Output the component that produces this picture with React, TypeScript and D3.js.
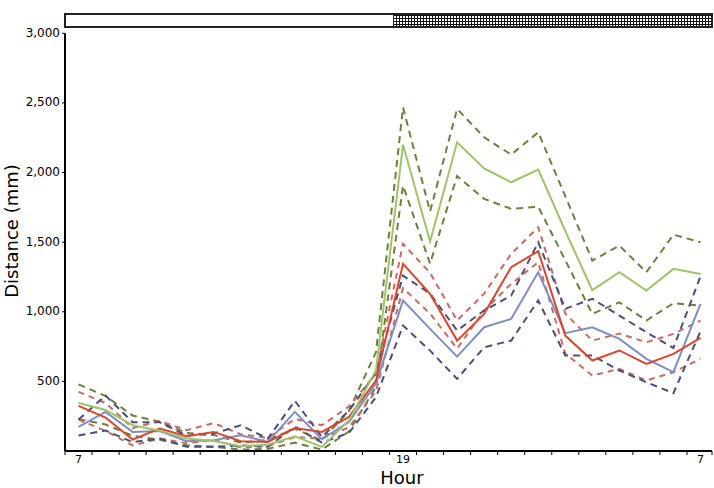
import React from "react";
import * as d3 from "d3";

// hours 7 -> 6 (24 hourly bins), only a few get labels
const hours = [7, 8, 9, 10, 11, 12, 13, 14, 15, 16, 17, 18, 19, 20, 21, 22, 23, 0, 1, 2, 3, 4, 5, 6];
const hourLabels: Record<number, string> = { 0: "7", 12: "19", 23: "7" };
const yTicks = [500, 1000, 1500, 2000, 2500, 3000];

const greenMean = [345, 295, 185, 145, 90, 72, 35, 45, 105, 30, 220, 580, 2200, 1505, 2217, 2030, 1930, 2021, 1580, 1155, 1284, 1152, 1308, 1272];
const greenUpper = [478, 395, 255, 210, 130, 115, 60, 80, 160, 75, 290, 710, 2468, 1720, 2457, 2253, 2129, 2289, 1830, 1368, 1475, 1284, 1554, 1499];
const greenLower = [230, 190, 110, 80, 40, 30, 10, 15, 60, 10, 140, 460, 1906, 1346, 1975, 1811, 1739, 1755, 1370, 985, 1068, 937, 1061, 1045];

const redMean = [324, 240, 82, 161, 106, 137, 70, 65, 165, 137, 245, 506, 1344, 1128, 793, 985, 1320, 1435, 829, 650, 722, 626, 698, 813];
const redUpper = [425, 345, 165, 215, 150, 200, 120, 95, 230, 185, 320, 556, 1488, 1280, 937, 1130, 1416, 1607, 987, 793, 843, 781, 841, 937];
const redLower = [225, 145, 40, 90, 55, 80, 25, 35, 100, 90, 170, 430, 1170, 987, 736, 1009, 1200, 1356, 700, 542, 590, 506, 566, 662];

const blueMean = [173, 281, 137, 144, 70, 77, 113, 65, 281, 84, 209, 484, 1081, 877, 678, 889, 949, 1284, 846, 889, 805, 662, 566, 1057];
const blueUpper = [226, 398, 207, 207, 110, 125, 185, 89, 360, 101, 290, 560, 1260, 1130, 865, 1009, 1116, 1499, 1021, 1093, 973, 853, 740, 1255];
const blueLower = [111, 147, 63, 90, 30, 30, 40, 30, 175, 60, 130, 386, 901, 721, 518, 745, 793, 1081, 686, 686, 578, 494, 415, 860];

const series = [
  { values: greenUpper, color: "#6f7f3c", dash: "7,5" },
  { values: greenLower, color: "#6f7f3c", dash: "7,5" },
  { values: redUpper, color: "#cc6a60", dash: "6,5" },
  { values: redLower, color: "#cc6a60", dash: "6,5" },
  { values: blueUpper, color: "#4a4f7c", dash: "7,5" },
  { values: blueLower, color: "#4a4f7c", dash: "7,5" },
  { values: blueMean, color: "#7d8fc7", dash: null },
  { values: redMean, color: "#e0452c", dash: null },
  { values: greenMean, color: "#9cc565", dash: null },
];

const App = () => {
  const width = 714;
  const height = 488;
  const left = 65;
  const right = 714;
  const top = 33.3;
  const bottom = 451;

  const x = d3.scaleBand<number>().domain(d3.range(hours.length)).range([left, right]).padding(0);
  const y = d3.scaleLinear().domain([0, 3000]).range([bottom, top]);
  const cx = (i: number) => x(i)! + x.bandwidth() / 2;

  const line = d3
    .line<number>()
    .x((_, i) => cx(i))
    .y(d => y(d));

  const darkStart = x(12)! + 4;

  return (
    <svg width={width} height={height} style={{ position: "absolute", left: 0, top: 0, background: "#fff" }}>
      <defs>
        <pattern id="night" width="3" height="3" patternUnits="userSpaceOnUse">
          <rect width="3" height="3" fill="#fff" />
          <rect width="3" height="1" fill="#111" />
          <rect width="1" height="3" fill="#111" />
        </pattern>
      </defs>

      {/* light / dark bar */}
      <rect x={darkStart} y={14} width={712 - darkStart} height={13} fill="url(#night)" />
      <rect x={left} y={14} width={712 - left} height={13} fill="none" stroke="#222" strokeWidth={2} />
      <line x1={darkStart} x2={darkStart} y1={14} y2={27} stroke="#222" strokeWidth={1} />

      {series.map((s, k) => (
        <path
          key={k}
          d={line(s.values) || ""}
          fill="none"
          stroke={s.color}
          strokeWidth={2}
          strokeDasharray={s.dash || undefined}
        />
      ))}

      {/* y axis */}
      <line x1={left} x2={left} y1={top} y2={bottom} stroke="#000" strokeWidth={2} />
      {yTicks.map(t => (
        <g key={t}>
          <line x1={left - 3} x2={left} y1={y(t)} y2={y(t)} stroke="#000" strokeWidth={1} />
          <text
            x={left - 5}
            y={y(t)}
            textAnchor="end"
            dominantBaseline="middle"
            fontFamily="DejaVu Sans, Verdana, sans-serif"
            fontSize={12}
            fill="#000"
          >
            {d3.format(",")(t)}
          </text>
        </g>
      ))}

      {/* x axis */}
      <line x1={left} x2={712} y1={bottom} y2={bottom} stroke="#000" strokeWidth={2} />
      {d3.range(hours.length + 1).map(i => {
        const xx = i < hours.length ? x(i)! : right - 2;
        return <line key={i} x1={xx} x2={xx} y1={bottom} y2={bottom + 4} stroke="#000" strokeWidth={1} />;
      })}
      {hours.map((h, i) =>
        hourLabels[i] ? (
          <text
            key={i}
            x={cx(i)}
            y={463}
            textAnchor="middle"
            fontFamily="DejaVu Sans, Verdana, sans-serif"
            fontSize={11}
            fill="#000"
          >
            {hourLabels[i]}
          </text>
        ) : null
      )}

      <text x={402} y={484} textAnchor="middle" fontFamily="DejaVu Sans, Verdana, sans-serif" fontSize={18} fill="#000">
        Hour
      </text>
      <text
        transform="translate(18,231) rotate(-90)"
        textAnchor="middle"
        fontFamily="DejaVu Sans, Verdana, sans-serif"
        fontSize={18}
        fill="#000"
      >
        Distance (mm)
      </text>
    </svg>
  );
};

export default App;
